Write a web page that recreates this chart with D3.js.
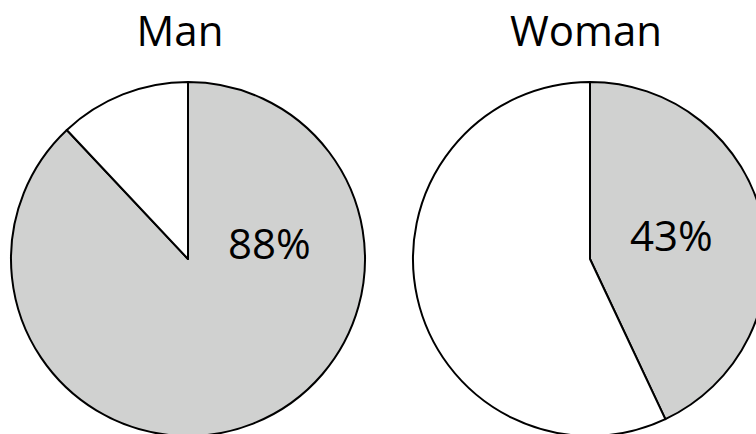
<!DOCTYPE html>
<html>
<head>
<meta charset="utf-8">
<script src="https://cdn.jsdelivr.net/npm/d3@7"></script>
<style>
  body { margin: 0; background: #fff; }
  svg { display: block; }
  text { font-family: "Open Sans", "Liberation Sans", sans-serif; fill: #000; }
</style>
</head>
<body>
<script>
// chart data
var groups = ["Man", "Woman"];
var yesShare = [88, 43];          // grey slice, percent
var labels = ["88%", "43%"];

var width = 756, height = 434;
var radius = 177;
var centerY = 259;

var svg = d3.select("body").append("svg")
  .attr("width", width)
  .attr("height", height);

// one pie per group, spread along x
var x = d3.scaleOrdinal()
  .domain(groups)
  .range([188, 590]);

var pie = d3.pie()
  .sort(null)
  .value(function(d) { return d; });

var arc = d3.arc()
  .innerRadius(0)
  .outerRadius(radius);

var colors = ["#d0d1d0", "#ffffff"];

groups.forEach(function(name, i) {
  var g = svg.append("g")
    .attr("transform", "translate(" + x(name) + "," + centerY + ")");

  var slices = pie([yesShare[i], 100 - yesShare[i]]);

  g.selectAll("path")
    .data(slices)
    .enter().append("path")
    .attr("d", arc)
    .attr("fill", function(d, j) { return colors[j]; })
    .attr("stroke", "#000")
    .attr("stroke-width", 2)
    .attr("stroke-linejoin", "round");

  // title above the pie
  svg.append("text")
    .attr("x", x(name) - (i === 0 ? 8 : 4))
    .attr("y", 46)
    .attr("text-anchor", "middle")
    .style("font-size", "42px")
    .text(name);

  // percent label inside the grey slice
  g.append("text")
    .attr("x", radius * 0.46)
    .attr("y", i === 0 ? 0 : -8)
    .attr("text-anchor", "middle")
    .style("font-size", "42px")
    .text(labels[i]);
});
</script>
</body>
</html>
